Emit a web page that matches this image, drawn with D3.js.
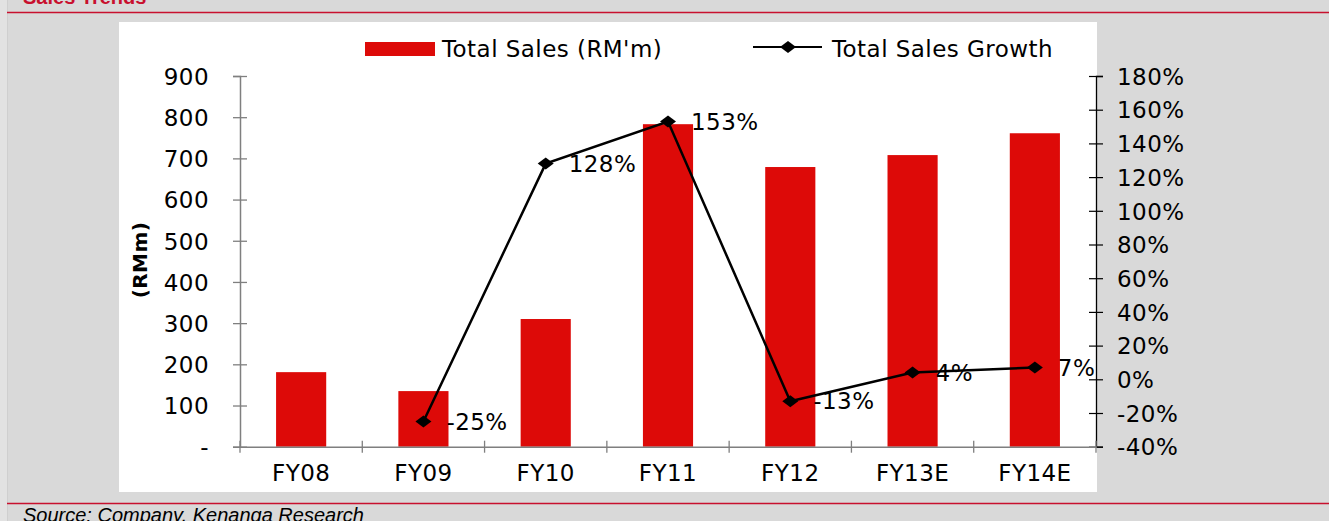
<!DOCTYPE html>
<html>
<head>
<meta charset="utf-8">
<script src="https://cdn.jsdelivr.net/npm/d3@7"></script>
<style>
  html, body { margin: 0; padding: 0; background: #d9d9d9; }
  svg { display: block; }
  .chart-text { font-family: "DejaVu Sans", Verdana, sans-serif; fill: #000; letter-spacing: 0.45px; }
</style>
</head>
<body>
<svg id="chart" width="1329" height="521"></svg>
<script>
// ============================================================================
// data
// ============================================================================

const categories = ["FY08", "FY09", "FY10", "FY11", "FY12", "FY13E", "FY14E"];
const salesValues = [181, 135, 310, 783, 679, 708, 761];
// no growth figure for the first year
const growthValues = [null, -25, 128, 153, -13, 4, 7];

const leftTicks = [0, 100, 200, 300, 400, 500, 600, 700, 800, 900];
const leftTickLabels = ["-", "100", "200", "300", "400", "500", "600", "700", "800", "900"];
const rightTicks = [-40, -20, 0, 20, 40, 60, 80, 100, 120, 140, 160, 180];

const legendLabels = ["Total Sales (RM'm)", "Total Sales Growth"];

// ============================================================================
// layout
// ============================================================================

const W = 1329, H = 521;
const plot = { left: 240, right: 1096, top: 76, bottom: 446.7 };

const barColor = "#dd0a08";
const lineRed = "#c8102e";
const axisGrey = "#7f7f7f";
const fontSize = 23;

const svg = d3.select("#chart");

// page background bits
svg.append("rect").attr("x", 0).attr("y", 0).attr("width", 7).attr("height", H).attr("fill", "#e2e2e2");
svg.append("line").attr("x1", 7.5).attr("x2", 7.5).attr("y1", 0).attr("y2", H)
    .attr("stroke", "#cfcfcf").attr("stroke-width", 1);

// title (cut by the top edge, as in the source page)
svg.append("text")
    .attr("x", 23).attr("y", 4)
    .attr("font-family", "Liberation Sans, Arial, sans-serif")
    .attr("font-weight", "bold")
    .attr("font-size", 20)
    .attr("fill", lineRed)
    .text("Sales Trends");

// red rules
svg.append("line").attr("x1", 7).attr("x2", W).attr("y1", 12.5).attr("y2", 12.5)
    .attr("stroke", lineRed).attr("stroke-width", 1.3);
svg.append("line").attr("x1", 7).attr("x2", W).attr("y1", 503.5).attr("y2", 503.5)
    .attr("stroke", lineRed).attr("stroke-width", 1.3);

// source (cut by the bottom edge)
svg.append("text")
    .attr("x", 23).attr("y", 522)
    .attr("font-family", "Liberation Sans, Arial, sans-serif")
    .attr("font-style", "italic")
    .attr("font-size", 20)
    .attr("fill", "#000")
    .text("Source: Company, Kenanga Research");

// white chart area
svg.append("rect")
    .attr("x", 119).attr("y", 22)
    .attr("width", 1097 - 119).attr("height", 492 - 22)
    .attr("fill", "#fff");

// ============================================================================
// scales
// ============================================================================

const x = d3.scaleBand()
    .domain(categories)
    .range([plot.left, plot.right])
    .paddingInner(0.59)
    .paddingOuter(0.295);

const yLeft = d3.scaleLinear().domain([0, 900]).range([plot.bottom, plot.top]);
const yRight = d3.scaleLinear().domain([-40, 180]).range([plot.bottom, plot.top]);

const g = svg.append("g");

// ============================================================================
// bars
// ============================================================================

g.append("g")
    .selectAll("rect")
    .data(categories.map((c, i) => ({ cat: c, value: salesValues[i] })))
    .join("rect")
    .attr("x", d => x(d.cat))
    .attr("width", x.bandwidth())
    .attr("y", d => yLeft(d.value))
    .attr("height", d => yLeft(0) - yLeft(d.value))
    .attr("fill", barColor);

// ============================================================================
// axes
// ============================================================================

// left axis
const leftAxis = g.append("g")
    .attr("transform", `translate(${plot.left},0)`)
    .call(d3.axisLeft(yLeft)
        .tickValues(leftTicks)
        .tickFormat((d, i) => leftTickLabels[i])
        .tickSize(7)
        .tickPadding(24));
leftAxis.select(".domain").attr("stroke", axisGrey).attr("stroke-width", 1.5);
leftAxis.selectAll(".tick line").attr("x1", 7).attr("x2", -7).attr("stroke", axisGrey).attr("stroke-width", 1.3);
leftAxis.selectAll(".tick text")
    .attr("class", "chart-text")
    .attr("font-size", fontSize)
    .attr("dy", "0.36em");

// right axis
const rightAxis = g.append("g")
    .attr("transform", `translate(${plot.right},0)`)
    .call(d3.axisRight(yRight)
        .tickValues(rightTicks)
        .tickFormat(d => d + "%")
        .tickSize(7)
        .tickPadding(14));
rightAxis.select(".domain").attr("stroke", "#000").attr("stroke-width", 1.3);
rightAxis.selectAll(".tick line").attr("x1", -7).attr("x2", 7).attr("stroke", "#000").attr("stroke-width", 1.2);
rightAxis.selectAll(".tick text")
    .attr("class", "chart-text")
    .attr("font-size", fontSize)
    .attr("dy", "0.36em");

// bottom axis: labels from the band scale, ticks on band boundaries
const bottomAxis = g.append("g")
    .attr("transform", `translate(0,${plot.bottom})`)
    .call(d3.axisBottom(x).tickSize(0).tickPadding(22));
bottomAxis.select(".domain").attr("stroke", axisGrey).attr("stroke-width", 1.5);
bottomAxis.selectAll(".tick text")
    .attr("class", "chart-text")
    .attr("font-size", fontSize)
    .attr("dy", "0.55em");

const boundaries = categories.map(c => x(c) - x.step() * x.paddingInner() / 2)
    .concat([plot.right]);
bottomAxis.selectAll(".bound")
    .data(boundaries)
    .join("line")
    .attr("class", "bound")
    .attr("x1", d => d).attr("x2", d => d)
    .attr("y1", -6).attr("y2", 6)
    .attr("stroke", axisGrey).attr("stroke-width", 1.3);

// axis title
g.append("text")
    .attr("class", "chart-text")
    .attr("transform", `translate(147,260) rotate(-90)`)
    .attr("text-anchor", "middle")
    .attr("font-size", 20)
    .attr("font-weight", "bold")
    .text("(RMm)");

// ============================================================================
// growth line
// ============================================================================

const growthPoints = categories
    .map((c, i) => ({ cat: c, value: growthValues[i] }))
    .filter(d => d.value !== null);

const cx = d => x(d.cat) + x.bandwidth() / 2;

const line = d3.line()
    .x(cx)
    .y(d => yRight(d.value));

g.append("path")
    .datum(growthPoints)
    .attr("d", line)
    .attr("fill", "none")
    .attr("stroke", "#000")
    .attr("stroke-width", 2.5);

const diamond = "M-8,0L0,-6L8,0L0,6Z";

g.append("g")
    .selectAll("path")
    .data(growthPoints)
    .join("path")
    .attr("d", diamond)
    .attr("transform", d => `translate(${cx(d)},${yRight(d.value)})`)
    .attr("fill", "#000");

g.append("g")
    .selectAll("text")
    .data(growthPoints)
    .join("text")
    .attr("class", "chart-text")
    .attr("font-size", fontSize)
    .attr("x", d => cx(d) + 23)
    .attr("y", d => yRight(d.value))
    .attr("dy", "0.36em")
    .text(d => d.value + "%");

// ============================================================================
// legend
// ============================================================================

const legend = g.append("g");

legend.append("rect")
    .attr("x", 365).attr("y", 42)
    .attr("width", 70).attr("height", 14)
    .attr("fill", barColor);
legend.append("text")
    .attr("class", "chart-text")
    .attr("font-size", fontSize)
    .attr("x", 442).attr("y", 49)
    .attr("dy", "0.36em")
    .text(legendLabels[0]);

legend.append("line")
    .attr("x1", 753).attr("x2", 822)
    .attr("y1", 47).attr("y2", 47)
    .attr("stroke", "#000").attr("stroke-width", 2);
legend.append("path")
    .attr("d", diamond)
    .attr("transform", "translate(788,47)")
    .attr("fill", "#000");
legend.append("text")
    .attr("class", "chart-text")
    .attr("font-size", fontSize)
    .attr("x", 832).attr("y", 49)
    .attr("dy", "0.36em")
    .text(legendLabels[1]);
</script>
</body>
</html>
